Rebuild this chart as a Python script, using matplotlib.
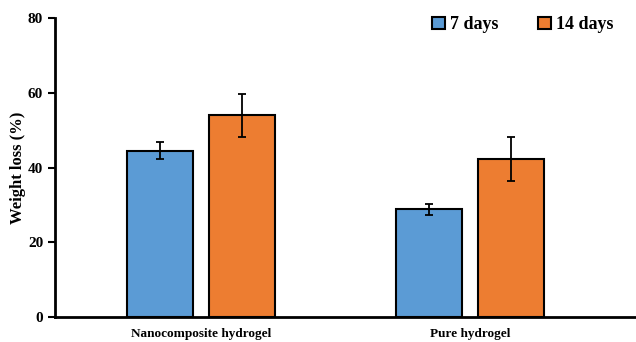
import numpy as np
import matplotlib.pyplot as plt

plt.rcParams['font.family'] = ['Liberation Serif', 'DejaVu Serif']
plt.rcParams['font.weight'] = 'bold'

# Data
categories = ['Nanocomposite hydrogel', 'Pure hydrogel']
series_names = ['7 days', '14 days']
loss_7 = [44.5, 28.8]
loss_14 = [54.0, 42.3]
err_7 = [2.3, 1.4]
err_14 = [5.8, 5.9]

colors = ['#5b9bd5', '#ed7d31']

fig = plt.figure(figsize=(6.36, 3.42), dpi=100)
ax = fig.add_axes([0.0865, 0.073, 0.9135, 0.874])

x = np.arange(len(categories))
w = 0.245
off = 0.153

ax.bar(x - off, loss_7, w, color=colors[0], edgecolor='black', linewidth=1.5,
       yerr=err_7, capsize=3, error_kw=dict(elinewidth=1.3, capthick=1.3),
       label=series_names[0], zorder=2)
ax.bar(x + off, loss_14, w, color=colors[1], edgecolor='black', linewidth=1.5,
       yerr=err_14, capsize=3, error_kw=dict(elinewidth=1.3, capthick=1.3),
       label=series_names[1], zorder=2)

ax.set_xlim(-0.543, 1.617)
ax.set_ylim(0, 80)
ax.set_yticks([0, 20, 40, 60, 80])
ax.set_xticks(x)
ax.set_xticklabels(categories, fontsize=9.5, fontweight='bold')
ax.tick_params(axis='x', length=0, pad=8)
ax.tick_params(axis='y', length=5, width=1.5, labelsize=11, direction='out')
for lab in ax.get_yticklabels():
    lab.set_fontweight('bold')

ax.spines['top'].set_visible(False)
ax.spines['right'].set_visible(False)
ax.spines['left'].set_linewidth(2)
ax.spines['bottom'].set_linewidth(2)

ax.set_ylabel('Weight loss (%)', fontsize=12, fontweight='bold')
ax.yaxis.set_label_coords(-0.05, 0.5)

ax.legend(loc='upper right', bbox_to_anchor=(0.99, 1.06), ncol=2,
          frameon=False, handlelength=0.7, handleheight=0.7,
          handletextpad=0.3, columnspacing=2.2,
          prop={'weight': 'bold', 'size': 13})

fig.savefig('out.png', dpi=100)
